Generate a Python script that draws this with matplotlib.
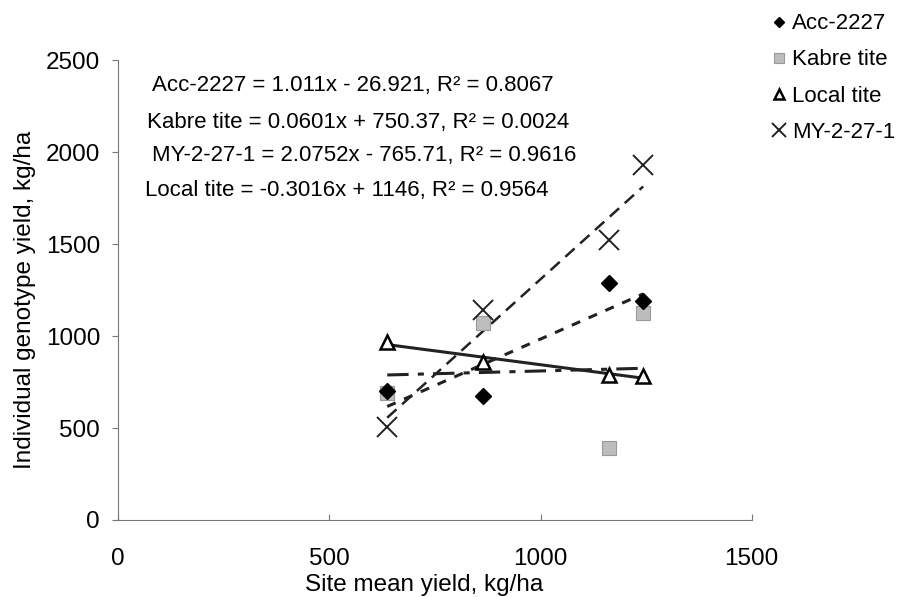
import numpy as np
import matplotlib
matplotlib.use('Agg')
import matplotlib.pyplot as plt

plt.rcParams['font.family'] = ['Liberation Sans', 'DejaVu Sans']

# site mean yield, kg/ha
site_mean = [637, 864, 1162, 1243]

genotypes = ['Acc-2227', 'Kabre tite', 'Local tite', 'MY-2-27-1']
acc_2227 = [700, 674, 1288, 1190]
kabre_tite = [690, 1070, 391, 1125]
local_tite = [967, 859, 788, 783]
my_2_27_1 = [505, 1141, 1522, 1929]

# trendline coefficients (slope, intercept) from the equations
slopes = [1.011, 0.0601, -0.3016, 2.0752]
intercepts = [-26.921, 750.37, 1146, -765.71]

equations = [
    'Acc-2227 = 1.011x - 26.921, R² = 0.8067',
    'Kabre tite = 0.0601x + 750.37, R² = 0.0024',
    'MY-2-27-1 = 2.0752x - 765.71, R² = 0.9616',
    'Local tite = -0.3016x + 1146, R² = 0.9564',
]
eq_pos = [(80, 2364), (69, 2163), (80, 1984), (64, 1793)]

fig = plt.figure(figsize=(9.09, 5.97), dpi=100)
ax = fig.add_axes([0.13, 0.129, 0.697, 0.77])

x = np.array(site_mean, dtype=float)
xl = np.array([x.min(), x.max()])

line_styles = [
    dict(ls=(0, (3, 3)), lw=2.2),
    dict(ls=(0, (7, 3, 2, 3)), lw=2.2),
    dict(ls='-', lw=2.2),
    dict(ls=(0, (5, 3)), lw=1.8),
]
for s, b, st in zip(slopes, intercepts, line_styles):
    ax.plot(xl, s * xl + b, color='#222222', zorder=2, **st)

ax.plot(x, kabre_tite, 's', ms=10.5, color='#bdbdbd', mec='#999999', mew=0.8,
        label='Kabre tite', zorder=3)
ax.plot(x, acc_2227, 'D', ms=8, color='black', label='Acc-2227', zorder=4)
ax.plot(x, local_tite, '^', ms=9.5, mfc='white', mec='black', mew=1.8,
        label='Local tite', zorder=5)
ax.plot(x, my_2_27_1, 'x', ms=15, color='#222222', mew=1.4,
        label='MY-2-27-1', zorder=5)

for txt, (tx, ty) in zip(equations, eq_pos):
    ax.text(tx, ty, txt, fontsize=16, va='center', ha='left')

ax.set_xlim(0, 1500)
ax.set_ylim(0, 2500)
ax.set_xticks([0, 500, 1000, 1500])
ax.set_yticks([0, 500, 1000, 1500, 2000, 2500])
ax.tick_params(labelsize=17.5, length=4, color='#777777')
ax.tick_params(axis='x', direction='in', pad=20)
ax.tick_params(axis='y', direction='out', pad=9)
for sp in ['top', 'right']:
    ax.spines[sp].set_visible(False)
for sp in ['left', 'bottom']:
    ax.spines[sp].set_color('#777777')
ax.set_xlabel('Site mean yield, kg/ha', fontsize=17.5)
ax.set_ylabel('Individual genotype yield, kg/ha', fontsize=17.5)
ax.xaxis.set_label_coords(0.483, -0.118)
ax.yaxis.set_label_coords(-0.13, 0.478)

handles, labels = ax.get_legend_handles_labels()
order = [labels.index(g) for g in genotypes]
fig.legend([handles[i] for i in order], [labels[i] for i in order],
           loc='upper left', bbox_to_anchor=(0.835, 1.0), frameon=False,
           fontsize=16, handlelength=0.6, handletextpad=0.3, borderpad=0.1,
           labelspacing=0.68, markerscale=0.7)

fig.savefig('out.png', dpi=100)
